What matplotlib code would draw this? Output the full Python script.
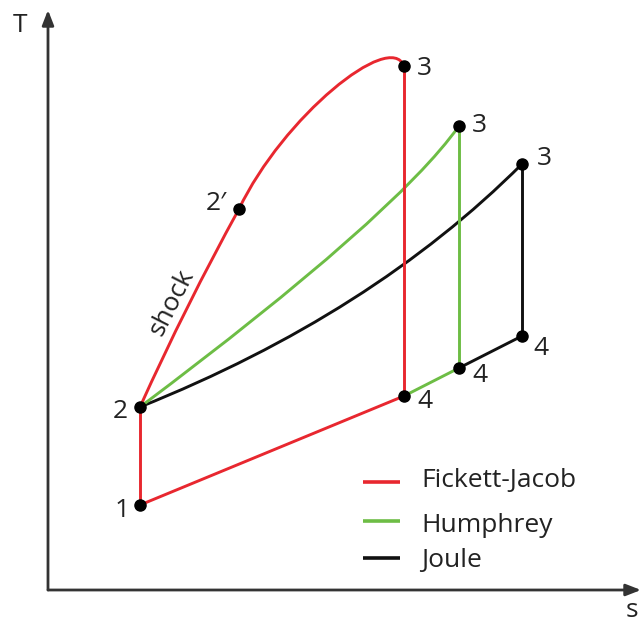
import matplotlib
matplotlib.use("Agg")
import matplotlib.pyplot as plt
from matplotlib.path import Path
from matplotlib.patches import PathPatch

plt.rcParams['font.family'] = ['Open Sans', 'DejaVu Sans']

# State points (s, T) in schematic units
p1 = (140, 117)
p2 = (140, 215)
p2s = (239, 413)          # after shock
fj3 = (404, 556)
fj4 = (404, 226)
hu3 = (459, 496)
hu4 = (459, 254)
jo3 = (522, 458)
jo4 = (522, 286)

# Bezier control points for the heat-addition curves
shock_ctrl = [(186, 317)]
fj_ctrl = [(283, 505), (390, 592)]
hu_ctrl = [(395, 406)]
jo_ctrl = [(372, 308)]

series_names = ["Fickett-Jacob", "Humphrey", "Joule"]
series_colors = ["#e8272f", "#6dbd45", "#111111"]

RED, GREEN, BLACK = series_colors
AXC = "#333333"
TXT = "#222222"
LW = 2.1
FS = 19

fig = plt.figure(figsize=(6.41, 6.22), dpi=100)
ax = fig.add_axes([0, 0, 1, 1])
ax.set_xlim(0, 641)
ax.set_ylim(0, 622)
ax.axis("off")

# Axes arrows
origin = (48, 32)
ax.annotate("", xy=(48, 612), xytext=origin,
            arrowprops=dict(arrowstyle="-|>,head_length=0.9,head_width=0.35",
                            lw=2.0, color=AXC, shrinkA=0, shrinkB=0))
ax.annotate("", xy=(641, 32), xytext=origin,
            arrowprops=dict(arrowstyle="-|>,head_length=0.9,head_width=0.35",
                            lw=2.0, color=AXC, shrinkA=0, shrinkB=0))
ax.text(20, 590, "T", fontsize=FS, ha="center", va="baseline", color=TXT)
ax.text(632, 5, "s", fontsize=FS, ha="center", va="baseline", color=TXT)


def curve(start, ctrl, end, color):
    pts = [start] + list(ctrl) + [end]
    code = Path.CURVE3 if len(ctrl) == 1 else Path.CURVE4
    codes = [Path.MOVETO] + [code] * (len(pts) - 1)
    ax.add_patch(PathPatch(Path(pts, codes), fc="none", ec=color, lw=LW,
                           capstyle="round", zorder=3))


def seg(a, b, color):
    ax.plot([a[0], b[0]], [a[1], b[1]], color=color, lw=LW,
            solid_capstyle="round", zorder=3)


# Joule cycle
curve(p2, jo_ctrl, jo3, BLACK)
seg(jo3, jo4, BLACK)
seg(hu4, jo4, BLACK)

# Humphrey cycle
curve(p2, hu_ctrl, hu3, GREEN)
seg(hu3, hu4, GREEN)
seg(fj4, hu4, GREEN)

# Fickett-Jacob cycle
seg(p1, p2, RED)
curve(p2, shock_ctrl, p2s, RED)
curve(p2s, fj_ctrl, fj3, RED)
seg(fj3, fj4, RED)
seg(p1, fj4, RED)

# State markers
pts = [p1, p2, p2s, fj3, fj4, hu3, hu4, jo3, jo4]
ax.plot([p[0] for p in pts], [p[1] for p in pts], "o", color="black",
        ms=8, zorder=5)

# State labels
labels = [
    ("1", 122, 105), ("2", 120, 204), ("2\u2032", 216, 412),
    ("3", 424, 547), ("3", 479, 490), ("3", 544, 457),
    ("4", 425, 214), ("4", 480, 240), ("4", 541, 267),
]
for txt, x, y in labels:
    ax.text(x, y, txt, fontsize=FS, ha="center", va="baseline", color=TXT,
            zorder=6)

ax.text(172, 320, "shock", fontsize=FS, rotation=63, ha="center", va="center",
        color=TXT, rotation_mode="anchor")

# Legend
leg_y = [140, 101, 64]
leg_base = [135, 90, 55]
for name, col, ly, lb in zip(series_names, series_colors, leg_y, leg_base):
    ax.plot([363, 400], [ly, ly], color=col, lw=2.6, solid_capstyle="butt")
    ax.text(421, lb, name, fontsize=FS, ha="left", va="baseline", color=TXT)

fig.savefig("out.png", dpi=100)
